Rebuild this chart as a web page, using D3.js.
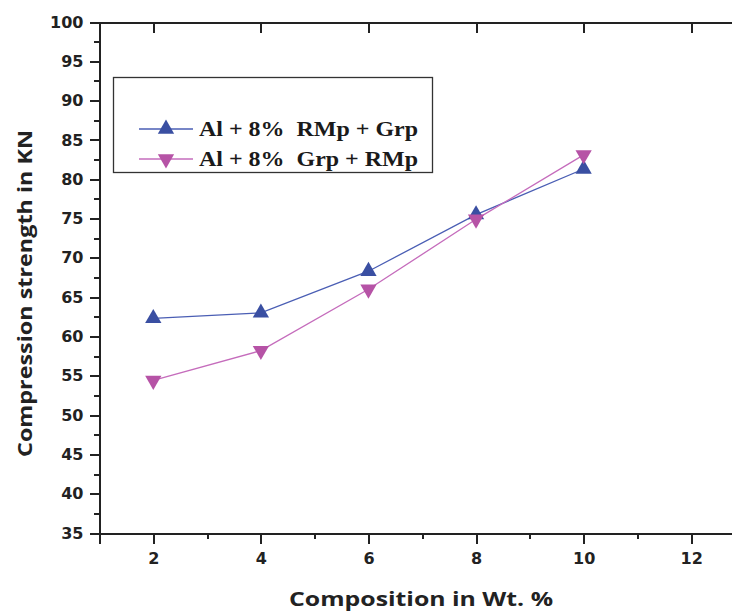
<!DOCTYPE html>
<html>
<head>
<meta charset="utf-8">
<script src="https://cdn.jsdelivr.net/npm/d3@7"></script>
<style>
  body { margin: 0; background: #fff; }
  svg { display: block; }
</style>
</head>
<body>
<div id="rootDiv"></div>
<script>
const compositions = [2, 4, 6, 8, 10]
const rmpGrpValues = [62.3, 63.0, 68.3, 75.5, 81.3]
const grpRmpValues = [54.4, 58.2, 66.0, 74.9, 83.1]
const seriesNames = ["Al + 8%  RMp + Grp", "Al + 8%  Grp + RMp"]
const xTicks = [2, 4, 6, 8, 10, 12]
const yTicks = [35, 40, 45, 50, 55, 60, 65, 70, 75, 80, 85, 90, 95, 100]

const width = 732
const height = 612
const margin = { top: 22, right: -13, bottom: 79, left: 99.5 }
const axisColor = "#222"
const blue = "#3a4fa2"
const pink = "#b653a6"
const tickFont = "'DejaVu Sans', sans-serif"

const svg = d3.select(document.getElementById("rootDiv"))
    .append("svg")
    .attr("width", width)
    .attr("height", height)

const x = d3.scaleLinear()
    .domain([1, 13])
    .range([margin.left, width - margin.right])

const y = d3.scaleLinear()
    .domain([35, 100])
    .range([height - margin.bottom, margin.top])

// minor ticks first so the major ones sit on top
const xMinor = d3.range(1, 13.1, 1).filter(d => !xTicks.includes(d))
const yMinor = d3.range(37.5, 100, 5)

svg.append("g")
    .attr("transform", `translate(0,${y(35)})`)
    .call(d3.axisBottom(x).tickValues(xMinor).tickSize(6).tickFormat(""))
svg.append("g")
    .attr("transform", `translate(${x(1)},0)`)
    .call(d3.axisLeft(y).tickValues(yMinor).tickSize(6).tickFormat(""))

// X-axis
const xAxis = svg.append("g")
    .attr("transform", `translate(0,${y(35)})`)
    .call(d3.axisBottom(x).tickValues(xTicks).tickSize(11).tickPadding(6))

// top frame with inward ticks
const xTop = svg.append("g")
    .attr("transform", `translate(0,${y(100)})`)
    .call(d3.axisTop(x).tickValues(xTicks).tickSize(-11).tickFormat(""))

// Y-axis
const yAxis = svg.append("g")
    .attr("transform", `translate(${x(1)},0)`)
    .call(d3.axisLeft(y).tickValues(yTicks).tickSize(10).tickPadding(6))

svg.selectAll(".domain, .tick line")
    .style("stroke", axisColor)
    .style("stroke-width", 2)
    .attr("shape-rendering", "crispEdges")

for (const axis of [xAxis, yAxis]) {
    axis.selectAll("text")
        .style("fill", "#222")
        .style("font-family", tickFont)
        .style("font-weight", "bold")
        .style("font-size", "16px")
}
xAxis.selectAll("text").attr("dy", "0.85em")

// Draw lines and markers
const series = [
    { name: seriesNames[0], values: rmpGrpValues, color: blue, rot: 0, lineColor: "#4a5eb4" },
    { name: seriesNames[1], values: grpRmpValues, color: pink, rot: 180, lineColor: "#c56cbc" },
]

const line = d3.line()
    .x((d, i) => x(compositions[i]))
    .y(d => y(d))

const tri = d3.symbol().type(d3.symbolTriangle).size(115)

for (const s of series) {
    svg.append("path")
        .datum(s.values)
        .attr("d", line)
        .attr("fill", "none")
        .attr("stroke", s.lineColor)
        .attr("stroke-width", 1.3)
}
for (const s of series) {
    svg.selectAll(null)
        .data(s.values)
        .enter()
        .append("path")
        .attr("d", tri)
        .attr("transform", (d, i) => `translate(${x(compositions[i])},${y(d)}) rotate(${s.rot})`)
        .attr("fill", s.color)
}

// Legend
const legend = svg.append("g")
legend.append("rect")
    .attr("x", 113.5)
    .attr("y", 77.5)
    .attr("width", 319)
    .attr("height", 95)
    .attr("fill", "#fff")
    .attr("stroke", "#333")
    .attr("stroke-width", 1.3)

series.forEach((s, i) => {
    const ly = 129 + i * 30
    legend.append("line")
        .attr("x1", 139).attr("x2", 193)
        .attr("y1", ly).attr("y2", ly)
        .attr("stroke", s.lineColor)
        .attr("stroke-width", 1.3)
    legend.append("path")
        .attr("d", tri)
        .attr("transform", `translate(166,${ly}) rotate(${s.rot})`)
        .attr("fill", s.color)
    legend.append("text")
        .attr("x", 199)
        .attr("y", ly + 7)
        .attr("textLength", 219)
        .attr("lengthAdjust", "spacingAndGlyphs")
        .style("white-space", "pre")
        .style("font-family", "'Liberation Serif', 'Times New Roman', serif")
        .style("font-weight", "bold")
        .style("font-size", "20px")
        .attr("fill", "#1a1a1a")
        .text(s.name)
})

// axis titles
svg.append("text")
    .attr("x", 421)
    .attr("y", 606)
    .attr("text-anchor", "middle")
    .attr("textLength", 264)
    .attr("lengthAdjust", "spacingAndGlyphs")
    .style("font-family", "'Open Sans', sans-serif")
    .style("font-weight", "bold")
    .style("font-size", "20px")
    .attr("fill", "#222")
    .text("Composition in Wt. %")

svg.append("text")
    .attr("transform", "translate(32,293.5) rotate(-90)")
    .attr("text-anchor", "middle")
    .attr("textLength", 327)
    .attr("lengthAdjust", "spacingAndGlyphs")
    .style("font-family", "'Open Sans', sans-serif")
    .style("font-weight", "bold")
    .style("font-size", "20px")
    .attr("fill", "#222")
    .text("Compression strength in KN")
</script>
</body>
</html>
